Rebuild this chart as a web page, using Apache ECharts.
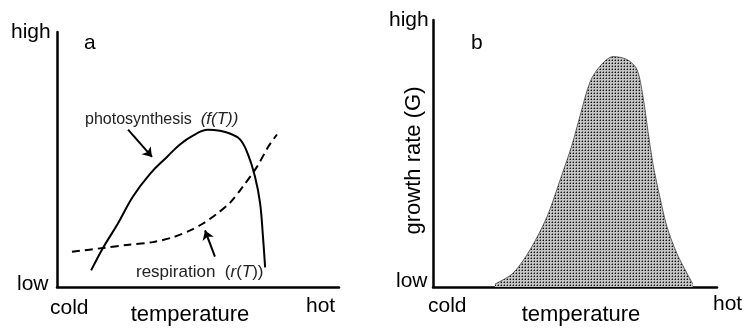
<!DOCTYPE html>
<html>
<head>
<meta charset="utf-8">
<script src="https://cdn.jsdelivr.net/npm/echarts@6/dist/echarts.min.js"></script>
<style>
  html, body { margin: 0; padding: 0; background: #fff; }
  #chart { width: 747px; height: 331px; }
</style>
</head>
<body>
<div id="chart"></div>
<script>
  // panel a: temperature (0 = cold, 100 = hot) vs rate (0 = low, 100 = high)
  var photoTemp = [12.1, 16.3, 21.6, 27.0, 33.0, 39.0, 43.6, 48.2, 53.5, 57.8, 61.3, 64.9, 67.7, 70.2, 72.0, 73.0, 73.8]
  var photoRate = [6.5, 15.3, 24.9, 35.6, 44.4, 51.0, 55.9, 59.4, 61.7, 61.3, 60.2, 57.9, 52.1, 43.3, 33.0, 20.3, 7.7]
  var respTemp = [5.3, 16.3, 24.8, 34.0, 41.1, 47.2, 51.8, 56.7, 61.3, 66.0, 70.9, 74.8, 78.0]
  var respRate = [13.8, 15.3, 16.5, 17.6, 19.5, 22.2, 24.9, 28.7, 33.0, 39.5, 47.1, 54.8, 59.8]
  // panel b: growth rate
  var growthTemp = [21.8, 28.2, 34.2, 40.1, 44.7, 48.9, 51.8, 55.3, 58.8, 63.4, 68.3, 71.8, 73.9, 75.7, 77.5, 79.9, 82.4, 85.9, 89.4, 91.5]
  var growthRate = [1.1, 5.2, 14.0, 26.2, 39.9, 53.1, 64.2, 76.8, 82.7, 86.3, 85.2, 81.5, 71.6, 58.3, 45.8, 33.6, 22.5, 12.5, 5.2, 1.1]
  // annotation arrows [fromTemp, fromRate, toTemp, toRate]
  var photoArrow = [25.2, 61.7, 33.7, 51.0]
  var respArrow = [56.0, 11.9, 52.5, 22.2]

  function pairs(xs, ys) {
    return xs.map(function (x, i) { return [x, ys[i]] })
  }

  // dotted grey fill like the original
  var tile = document.createElement('canvas')
  tile.width = 3
  tile.height = 3
  var ctx = tile.getContext('2d')
  ctx.fillStyle = '#c4c4c4'
  ctx.fillRect(0, 0, 3, 3)
  ctx.fillStyle = '#111'
  ctx.fillRect(0, 0, 1, 1)
  ctx.fillStyle = '#777'
  ctx.fillRect(2, 0, 1, 1)
  ctx.fillRect(0, 2, 1, 1)

  var font = 'Liberation Sans, Arial, sans-serif'
  var axisLine = { show: true, onZero: false, lineStyle: { color: '#000', width: 2.5 } }

  function axis(extra) {
    return Object.assign({
      type: 'value',
      min: 0,
      max: 100,
      axisLine: axisLine,
      axisTick: { show: false },
      axisLabel: { show: false },
      splitLine: { show: false }
    }, extra)
  }

  function label(text, x, y, size, align) {
    return {
      type: 'text',
      left: x,
      top: y,
      style: { text: text, font: size + 'px ' + font, fill: '#000', textAlign: align || 'left' }
    }
  }

  var chart = echarts.init(document.getElementById('chart'))
  chart.setOption({
    animation: false,
    grid: [
      { left: 57, top: 32, width: 282, height: 261 },
      { left: 433, top: 20, width: 284, height: 271 }
    ],
    xAxis: [
      axis({ gridIndex: 0, name: 'temperature', nameLocation: 'middle', nameGap: 17,
        nameTextStyle: { color: '#000', fontSize: 22, fontFamily: font, padding: [0, 0, 0, -16] } }),
      axis({ gridIndex: 1, name: 'temperature', nameLocation: 'middle', nameGap: 17,
        nameTextStyle: { color: '#000', fontSize: 22, fontFamily: font, padding: [0, 0, 0, 12] } })
    ],
    yAxis: [
      axis({ gridIndex: 0 }),
      axis({ gridIndex: 1, name: 'growth rate (G)', nameLocation: 'middle', nameGap: 8,
        nameTextStyle: { color: '#000', fontSize: 22, fontFamily: font, padding: [0, 14, 0, 0] } })
    ],
    graphic: [
      label('high', 11, 22, 21),
      label('low', 17, 274, 21),
      label('cold', 50, 298, 21),
      label('hot', 306, 296, 21),
      label('a', 84, 33, 21),
      label('high', 389, 10, 21),
      label('low', 396, 271, 21),
      label('cold', 428, 296, 21),
      label('hot', 713, 294, 21),
      label('b', 471, 33, 21),
      {
        type: 'text',
        left: 85,
        top: 111,
        style: {
          text: 'photosynthesis  {i|(f(T))}',
          font: '16px ' + font,
          fill: '#222',
          rich: { i: { fontStyle: 'italic', fontSize: 17, fontFamily: font, fill: '#222' } }
        }
      },
      {
        type: 'text',
        left: 136,
        top: 264,
        style: {
          text: 'respiration  ({i|r}({i|T}))',
          font: '17px ' + font,
          fill: '#222',
          rich: { i: { fontStyle: 'italic', fontSize: 17, fontFamily: font, fill: '#222' } }
        }
      }
    ],
    series: [
      {
        name: 'photosynthesis',
        type: 'line',
        xAxisIndex: 0,
        yAxisIndex: 0,
        showSymbol: false,
        smooth: 0.4,
        lineStyle: { color: '#000', width: 2 },
        data: pairs(photoTemp, photoRate),
        markLine: {
          silent: true,
          symbol: ['none', 'arrow'],
          symbolSize: 9,
          label: { show: false },
          lineStyle: { color: '#000', width: 2, type: 'solid' },
          data: [
            [{ coord: [photoArrow[0], photoArrow[1]] }, { coord: [photoArrow[2], photoArrow[3]] }],
            [{ coord: [respArrow[0], respArrow[1]] }, { coord: [respArrow[2], respArrow[3]] }]
          ]
        }
      },
      {
        name: 'respiration',
        type: 'line',
        xAxisIndex: 0,
        yAxisIndex: 0,
        showSymbol: false,
        smooth: 0.3,
        lineStyle: { color: '#000', width: 2, type: [8, 5] },
        data: pairs(respTemp, respRate)
      },
      {
        name: 'growth rate',
        type: 'line',
        xAxisIndex: 1,
        yAxisIndex: 1,
        showSymbol: false,
        smooth: 0.3,
        lineStyle: { color: '#444', width: 0.8 },
        areaStyle: { color: { image: tile, repeat: 'repeat' }, opacity: 1, origin: 'start' },
        data: pairs(growthTemp, growthRate)
      }
    ]
  })
</script>
</body>
</html>
